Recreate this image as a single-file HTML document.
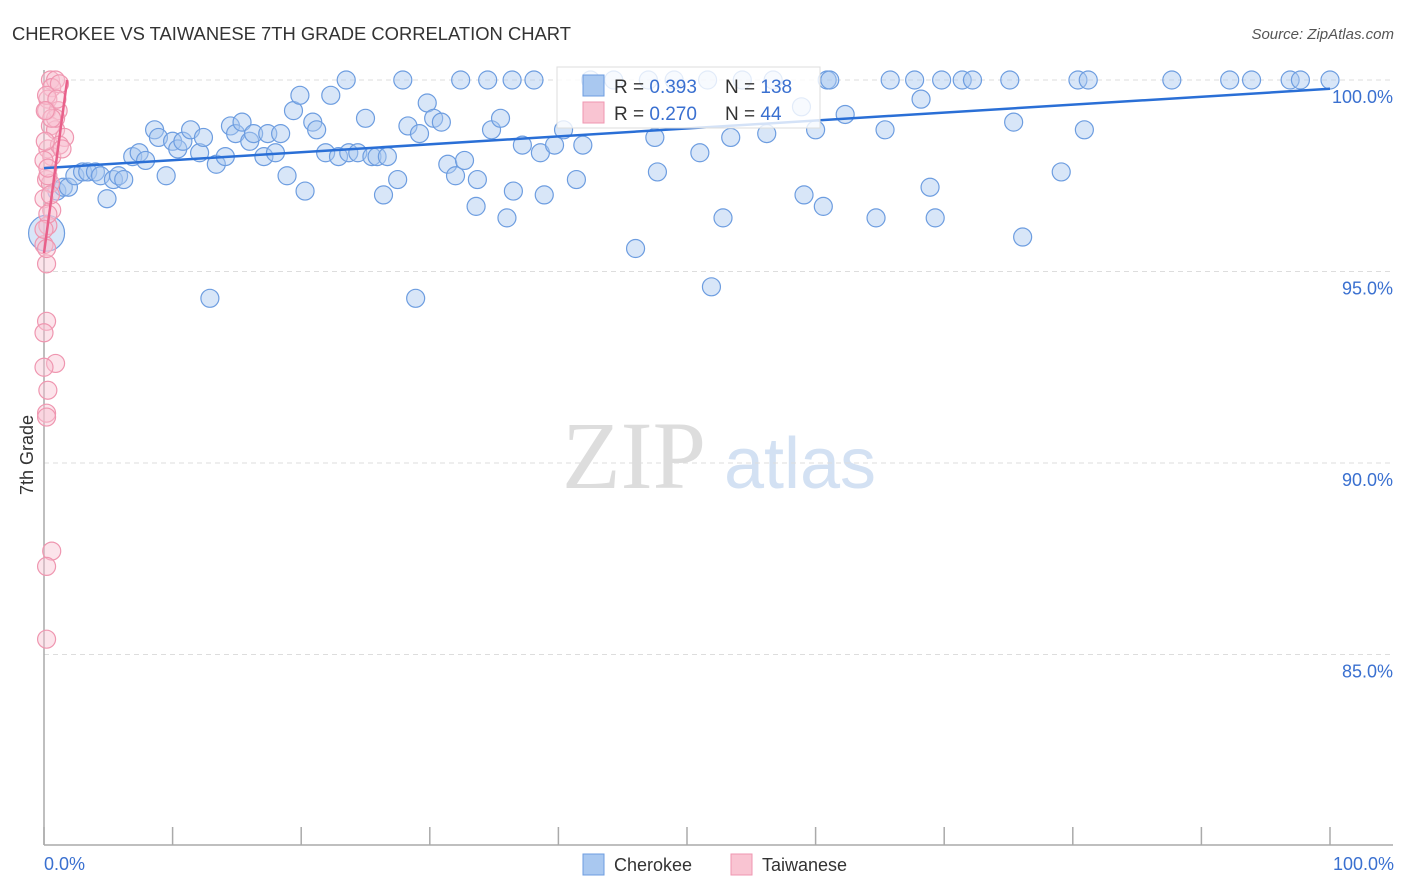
<!DOCTYPE html>
<html><head><meta charset="utf-8"><style>
body{margin:0;background:#fff;font-family:"Liberation Sans",sans-serif;}
svg{display:block}
</style></head><body>
<svg width="1406" height="892" xmlns="http://www.w3.org/2000/svg">
<text x="12" y="40" font-size="18.4" fill="#333">CHEROKEE VS TAIWANESE 7TH GRADE CORRELATION CHART</text>
<text x="1394" y="39" font-size="15" fill="#555" font-style="italic" text-anchor="end">Source: ZipAtlas.com</text>
<g>
<text x="634" y="488" font-size="96" font-family="Liberation Serif,serif" fill="#ddd" text-anchor="middle">ZIP</text>
<text x="800" y="488" font-size="72" fill="#d3e1f3" text-anchor="middle">atlas</text>
</g>
<g id="grid"></g>
<g id="axes"></g>
<g id="pts"></g>
<g id="lines"></g>
<text transform="translate(33,455) rotate(-90)" font-size="18" fill="#333" text-anchor="middle">7th Grade</text>
<text x="44" y="870" font-size="18" fill="#3a70d0">0.0%</text>
<text x="1394" y="870" font-size="18" fill="#3a70d0" text-anchor="end">100.0%</text>
<g id="legendwrap"></g>
<g>
<rect x="583" y="854" width="21" height="21" fill="#a9c8f0" stroke="#6d9de0"/>
<text x="614" y="871" font-size="18" fill="#333">Cherokee</text>
<rect x="731" y="854" width="21" height="21" fill="#f9c4d2" stroke="#ef96b0"/>
<text x="762" y="871" font-size="18" fill="#333">Taiwanese</text>
</g>
<g>
<rect x="557" y="67" width="263" height="61" fill="#fff" fill-opacity="0.8" stroke="#ddd"/>
<rect x="583" y="75" width="21" height="21" fill="#a9c8f0" stroke="#6d9de0"/>
<rect x="583" y="102" width="21" height="21" fill="#f9c4d2" stroke="#ef96b0"/>
<text x="614" y="93" font-size="19" fill="#333">R = <tspan fill="#3a70d0">0.393</tspan></text>
<text x="725" y="93" font-size="19" fill="#333">N = <tspan fill="#3a70d0">138</tspan></text>
<text x="614" y="120" font-size="19" fill="#333">R = <tspan fill="#3a70d0">0.270</tspan></text>
<text x="725" y="120" font-size="19" fill="#333">N = <tspan fill="#3a70d0"> 44</tspan></text>
</g>
</svg>
<script>
const yTicks=[100,95,90,85];
const yTickLabels=["100.0%","95.0%","90.0%","85.0%"];
const xTicks=[0,10,20,30,40,50,60,70,80,90,100];
const cherokeeX=[1.0,1.5,1.9,2.4,3.0,3.4,4.0,4.4,4.9,5.4,5.8,6.2,6.9,7.4,7.9,8.6,8.9,9.5,10.0,10.4,10.8,11.4,12.1,12.4,12.9,13.4,14.1,14.5,14.9,15.4,16.0,16.3,17.1,17.4,18.0,18.4,18.9,19.4,19.9,20.3,20.9,21.2,21.9,22.3,22.9,23.5,23.7,24.4,25.0,25.5,25.9,26.4,26.7,27.5,27.9,28.3,28.9,29.2,29.8,30.3,30.9,31.4,32.0,32.4,32.7,33.6,33.7,34.5,34.8,35.5,36.0,36.4,36.5,37.2,38.1,38.6,38.9,39.7,40.4,41.4,41.9,42.5,44.3,46.0,47.0,47.5,47.7,49.0,51.0,51.6,51.9,52.8,53.4,54.3,56.2,56.7,58.9,59.1,60.0,60.6,60.9,61.1,62.3,64.7,65.4,65.8,67.7,68.2,68.9,69.3,69.8,71.4,72.2,75.1,75.4,76.1,79.1,80.4,80.9,81.2,87.7,92.2,93.9,96.9,97.7,100];
const cherokeeY=[97.1,97.2,97.2,97.5,97.6,97.6,97.6,97.5,96.9,97.4,97.5,97.4,98.0,98.1,97.9,98.7,98.5,97.5,98.4,98.2,98.4,98.7,98.1,98.5,94.3,97.8,98.0,98.8,98.6,98.9,98.4,98.6,98.0,98.6,98.1,98.6,97.5,99.2,99.6,97.1,98.9,98.7,98.1,99.6,98.0,100,98.1,98.1,99.0,98.0,98.0,97.0,98.0,97.4,100,98.8,94.3,98.6,99.4,99.0,98.9,97.8,97.5,100,97.9,96.7,97.4,100,98.7,99.0,96.4,100,97.1,98.3,100,98.1,97.0,98.3,98.7,97.4,98.3,100,100,95.6,100,98.5,97.6,100,98.1,100,94.6,96.4,98.5,100,98.6,100,99.3,97.0,98.7,96.7,100,100,99.1,96.4,98.7,100,100,99.5,97.2,96.4,100,100,100,100,98.9,95.9,97.6,100,98.7,100,100,100,100,100,100,100];
const taiwaneseX=[0.5,0.9,0.6,0.3,0.2,1.1,0.5,0.9,1.6,0.3,0.6,1.2,0.2,0.5,0,0.6,0.3,0,0.2,0.2,0,0.9,0,0.3,0.2,0.2,0.6,0.2,0.2,0.3,0,0.9,1.2,0.2,0.1,0.5,0.3,0,1.0,0.2,0.6,0.3,1.4,0.1];
const taiwaneseY=[100,100,99.8,99.5,99.2,99.2,98.8,98.7,98.5,98.2,98.0,98.3,97.4,97.3,96.9,96.6,96.2,95.7,95.2,93.7,93.4,92.6,92.5,91.9,91.3,91.2,87.7,87.3,85.4,97.5,97.9,99.0,99.9,99.6,98.4,97.0,96.5,96.1,99.5,95.6,99.0,97.7,98.2,99.2];
const cherokeeTrendX=[0,100], cherokeeTrendY=[97.7,99.77];
const taiwaneseTrendX=[0,1.8], taiwaneseTrendY=[95.48,100];
const NS="http://www.w3.org/2000/svg";
const X0=44,X1=1330,Y100=80,PXPER=38.3;
const sx=v=>X0+(X1-X0)*v/100;
const sy=v=>Y100+(100-v)*PXPER;
function mk(tag,attrs,parent){const e=document.createElementNS(NS,tag);for(const k in attrs)e.setAttribute(k,attrs[k]);document.getElementById(parent).appendChild(e);return e;}
yTicks.forEach((t,i)=>{
 const l=mk('line',{x1:44,x2:1393,y1:sy(t),y2:sy(t),stroke:'#ddd','stroke-dasharray':'5,4'},'grid');
 
 
 const tx=mk('text',{x:1393,y:sy(t)+23,'font-size':18,fill:'#3a70d0','text-anchor':'end'},'grid');
 tx.textContent=yTickLabels[i];
 
 
});
const ya=mk('line',{x1:44,x2:44,y1:70,y2:845,stroke:'#aaa','stroke-width':1.5},'axes');


const xa=mk('line',{x1:44,x2:1393,y1:845,y2:845,stroke:'#aaa','stroke-width':1.5},'axes');


xTicks.forEach(t=>{
 const l=mk('line',{x1:sx(t),x2:sx(t),y1:827,y2:845,stroke:'#aaa','stroke-width':1.5},'axes');
 
 
});
cherokeeX.forEach((x,i)=>{
 const c=mk('circle',{cx:sx(x),cy:sy(cherokeeY[i]),r:9,fill:'#a9c8f0','fill-opacity':0.45,stroke:'#6d9de0','stroke-width':1.2},'pts');
 
 
});
const big=mk('circle',{cx:sx(0.2),cy:sy(96.0),r:18,fill:'#a9c8f0','fill-opacity':0.45,stroke:'#6d9de0','stroke-width':1.2},'pts');


taiwaneseX.forEach((x,i)=>{
 const c=mk('circle',{cx:sx(x),cy:sy(taiwaneseY[i]),r:9,fill:'#f9c4d2','fill-opacity':0.45,stroke:'#ef96b0','stroke-width':1.2},'pts');
 
 
});
const bl=mk('line',{x1:sx(cherokeeTrendX[0]),y1:sy(cherokeeTrendY[0]),x2:sx(cherokeeTrendX[1]),y2:sy(cherokeeTrendY[1]),stroke:'#2a6fd6','stroke-width':2.5},'lines');


const pl=mk('line',{x1:sx(taiwaneseTrendX[0]),y1:sy(taiwaneseTrendY[0]),x2:sx(taiwaneseTrendX[1]),y2:sy(taiwaneseTrendY[1]),stroke:'#e8608a','stroke-width':2.5},'lines');


</script>
</body></html>
